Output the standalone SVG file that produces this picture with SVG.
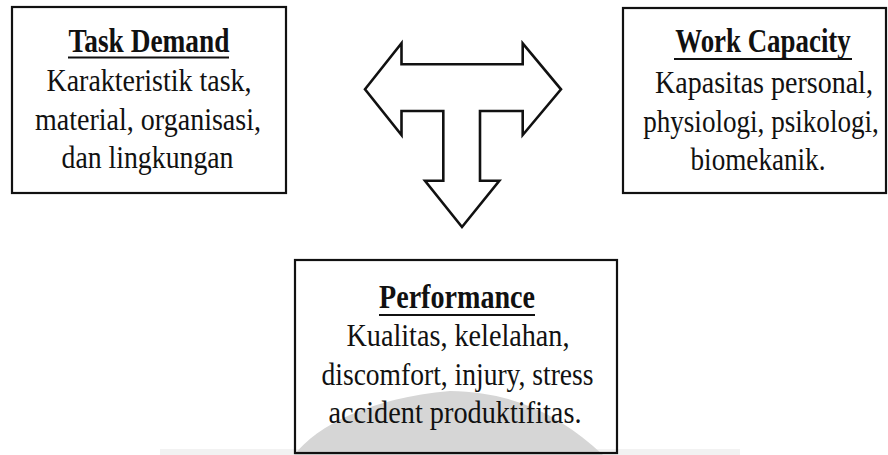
<svg xmlns="http://www.w3.org/2000/svg" width="888" height="455" viewBox="0 0 888 455">
  <style>
    .box { fill: none; stroke: #111111; stroke-width: 2.2; }
    .title { font-family: "Liberation Serif", "Times New Roman", serif; font-size: 33px; font-weight: bold; fill: #111111; text-anchor: middle; }
    .body { font-family: "Liberation Serif", "Times New Roman", serif; font-size: 31px; fill: #111111; text-anchor: middle; }
    .uline { stroke: #111111; stroke-width: 2; }
    .arrow { fill: #ffffff; stroke: #111111; stroke-width: 2.6; stroke-linejoin: miter; }
  </style>

  <rect width="888" height="455" fill="#ffffff"/>

  <!-- faint grey backdrop shape behind the lower box -->
  <g id="backdrop">
    <rect x="160" y="449" width="580" height="6" fill="#f2f2f2"/>
    <path d="M294,455 C318,425 370,398 450,391 C520,392 565,420 603,455 Z" fill="#d6d6d6"/>
  </g>

  <!-- Task Demand -->
  <g id="task-demand">
    <rect class="box" x="12" y="7" width="274" height="186"/>
    <text class="title" x="149" y="52" textLength="161" lengthAdjust="spacingAndGlyphs">Task Demand</text>
    <line class="uline" x1="68" y1="57.5" x2="229" y2="57.5"/>
    <text class="body" x="149" y="91" textLength="205" lengthAdjust="spacingAndGlyphs">Karakteristik task,</text>
    <text class="body" x="148" y="130" textLength="226" lengthAdjust="spacingAndGlyphs">material, organisasi,</text>
    <text class="body" x="147.5" y="168" textLength="172" lengthAdjust="spacingAndGlyphs">dan lingkungan</text>
  </g>

  <!-- Work Capacity (text narrowed with a horizontal scale) -->
  <g id="work-capacity">
    <rect class="box" x="623" y="8" width="263" height="185"/>
    <text class="title" transform="translate(763,52) scale(0.815,1)">Work Capacity</text>
    <line class="uline" x1="674" y1="59" x2="852" y2="59"/>
    <text class="body" transform="translate(764,93) scale(0.904,1)">Kapasitas personal,</text>
    <text class="body" transform="translate(761,132) scale(0.875,1)">physiologi, psikologi,</text>
    <text class="body" transform="translate(758,170) scale(0.876,1)">biomekanik.</text>
  </g>

  <!-- Performance -->
  <g id="performance">
    <rect class="box" x="295" y="260" width="322" height="193"/>
    <text class="title" x="457" y="308" textLength="156" lengthAdjust="spacingAndGlyphs">Performance</text>
    <line class="uline" x1="379" y1="315" x2="535" y2="315"/>
    <text class="body" x="458" y="346" textLength="223" lengthAdjust="spacingAndGlyphs">Kualitas, kelelahan,</text>
    <text class="body" x="457.5" y="385" textLength="272" lengthAdjust="spacingAndGlyphs">discomfort, injury, stress</text>
    <text class="body" x="455" y="423" textLength="253" lengthAdjust="spacingAndGlyphs">accident produktifitas.</text>
  </g>

  <!-- T-shaped block arrow linking the three boxes -->
  <g id="connectors">
    <path class="arrow" d="M365,89.3 L401.5,43.3 L401.5,64.3 L522.7,64.3 L522.7,43.3 L561,89.3 L522.7,135 L522.7,111 L480,111 L480,180.7 L499.3,180.7 L462,227 L425,180.7 L443.3,180.7 L443.3,111 L401.5,111 L401.5,135 Z"/>
  </g>
</svg>
